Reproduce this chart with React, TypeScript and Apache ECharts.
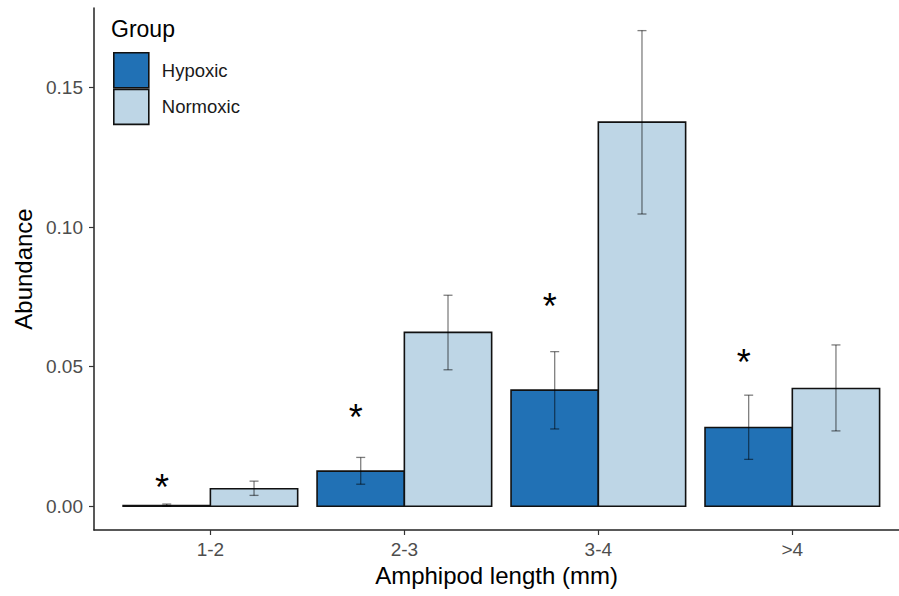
import React, { useEffect, useRef } from "react";
import * as echarts from "echarts";

const categories = ["1-2", "2-3", "3-4", ">4"];
const groups = ["Hypoxic", "Normoxic"];
const hypoxicMean = [0.0003, 0.0126, 0.0416, 0.0282];
const hypoxicLow = [0.0, 0.0079, 0.0277, 0.0168];
const hypoxicHigh = [0.0008, 0.0175, 0.0554, 0.0398];
const normoxicMean = [0.0063, 0.0623, 0.1376, 0.0422];
const normoxicLow = [0.0039, 0.0489, 0.1047, 0.027];
const normoxicHigh = [0.009, 0.0756, 0.1704, 0.0578];
const starLevels = [0.0066, 0.0317, 0.0715, 0.0514];
const yTicks = [0, 0.05, 0.1, 0.15];
const colors = ["#2171b5", "#bed6e6"];

const FONT = "'Liberation Sans', Arial, Helvetica, sans-serif";

export default function App() {
  const ref = useRef<HTMLDivElement>(null);
  useEffect(() => {
    if (!ref.current) return;
    const chart = echarts.init(ref.current, null, { renderer: "svg" });
    const half = 0.45;

    const makeBarSeries = (
      name: string,
      idx: number,
      mean: number[],
      lo: number[],
      hi: number[]
    ) => ({
      type: "custom",
      name,
      itemStyle: { color: colors[idx], borderColor: "#000", borderWidth: 1.5 },
      data: categories.map((_, i) => [i + 1, mean[i], lo[i], hi[i]]),
      renderItem: (params: any, api: any) => {
        const c = api.value(0);
        const v = api.value(1);
        const l = api.value(2);
        const h = api.value(3);
        const x0 = idx === 0 ? c - half : c;
        const x1 = idx === 0 ? c : c + half;
        const pa = api.coord([x0, 0]);
        const pb = api.coord([x1, v]);
        const xc = api.coord([(x0 + x1) / 2, 0])[0];
        const yl = api.coord([c, l])[1];
        const yh = api.coord([c, h])[1];
        const cap = 4.5;
        const es = { stroke: "rgba(0,0,0,0.5)", lineWidth: 1.3 };
        return {
          type: "group",
          children: [
            {
              type: "rect",
              shape: {
                x: pa[0],
                y: pb[1],
                width: pb[0] - pa[0],
                height: pa[1] - pb[1],
              },
              style: { fill: colors[idx], stroke: "#111", lineWidth: 1.6 },
            },
            { type: "line", shape: { x1: xc, y1: yl, x2: xc, y2: yh }, style: es },
            { type: "line", shape: { x1: xc - cap, y1: yl, x2: xc + cap, y2: yl }, style: es },
            { type: "line", shape: { x1: xc - cap, y1: yh, x2: xc + cap, y2: yh }, style: es },
          ],
        };
      },
    });

    const option: any = {
      animation: false,
      backgroundColor: "#fff",
      title: {
        text: "Group",
        left: 111,
        top: 17,
        textStyle: { fontFamily: FONT, fontSize: 23, fontWeight: "normal", color: "#000" },
        padding: 0,
      },
      legend: {
        orient: "vertical",
        left: 113,
        top: 52,
        itemWidth: 35,
        itemHeight: 35,
        itemGap: 0,
        padding: 0,
        selectedMode: false,
        textStyle: { fontFamily: FONT, fontSize: 18.5, color: "#1a1a1a", padding: [0, 0, 0, 8] },
        data: groups.map((g, i) => ({
          name: g,
          icon: "rect",
          itemStyle: { color: colors[i], borderColor: "#111", borderWidth: 1.6 },
        })),
      },
      grid: { left: 94, right: 0, top: 8, bottom: 66, containLabel: false },
      xAxis: {
        type: "value",
        min: 0.4,
        max: 4.55,
        name: "Amphipod length (mm)",
        nameLocation: "middle",
        nameGap: 29,
        nameTextStyle: { fontFamily: FONT, fontSize: 24, color: "#000" },
        axisLine: { show: true, onZero: false, lineStyle: { color: "#222", width: 1.5 } },
        axisTick: {
          show: true,
          customValues: [1, 2, 3, 4],
          length: 5,
          lineStyle: { color: "#333", width: 1.2 },
        },
        axisLabel: {
          customValues: [1, 2, 3, 4],
          formatter: (v: number) => categories[Math.round(v) - 1] ?? "",
          fontFamily: FONT,
          fontSize: 19,
          color: "#4d4d4d",
          margin: 10,
        },
        splitLine: { show: false },
      },
      yAxis: {
        type: "value",
        min: -0.0085,
        max: 0.1785,
        name: "Abundance",
        nameLocation: "middle",
        nameGap: 59,
        nameTextStyle: { fontFamily: FONT, fontSize: 24, color: "#000" },
        axisLine: { show: true, onZero: false, lineStyle: { color: "#222", width: 1.5 } },
        axisTick: {
          show: true,
          customValues: yTicks,
          length: 5,
          lineStyle: { color: "#333", width: 1.2 },
        },
        axisLabel: {
          customValues: yTicks,
          formatter: (v: number) => v.toFixed(2),
          fontFamily: FONT,
          fontSize: 19,
          color: "#4d4d4d",
          margin: 11,
        },
        splitLine: { show: false },
      },
      series: [
        makeBarSeries(groups[0], 0, hypoxicMean, hypoxicLow, hypoxicHigh),
        makeBarSeries(groups[1], 1, normoxicMean, normoxicLow, normoxicHigh),
        {
          type: "custom",
          name: "stars",
          data: categories.map((_, i) => [i + 1, starLevels[i]]),
          renderItem: (params: any, api: any) => {
            const p = api.coord([api.value(0) - 0.25, api.value(1)]);
            return {
              type: "text",
              x: p[0],
              y: p[1],
              style: {
                text: "*",
                fontFamily: FONT,
                fontSize: 36,
                fill: "#000",
                align: "center",
                verticalAlign: "middle",
              },
            };
          },
        },
      ],
    };
    chart.setOption(option);
    return () => chart.dispose();
  }, []);
  return (
    <div
      ref={ref}
      style={{ position: "absolute", left: 0, top: 0, width: 899, height: 596 }}
    />
  );
}
